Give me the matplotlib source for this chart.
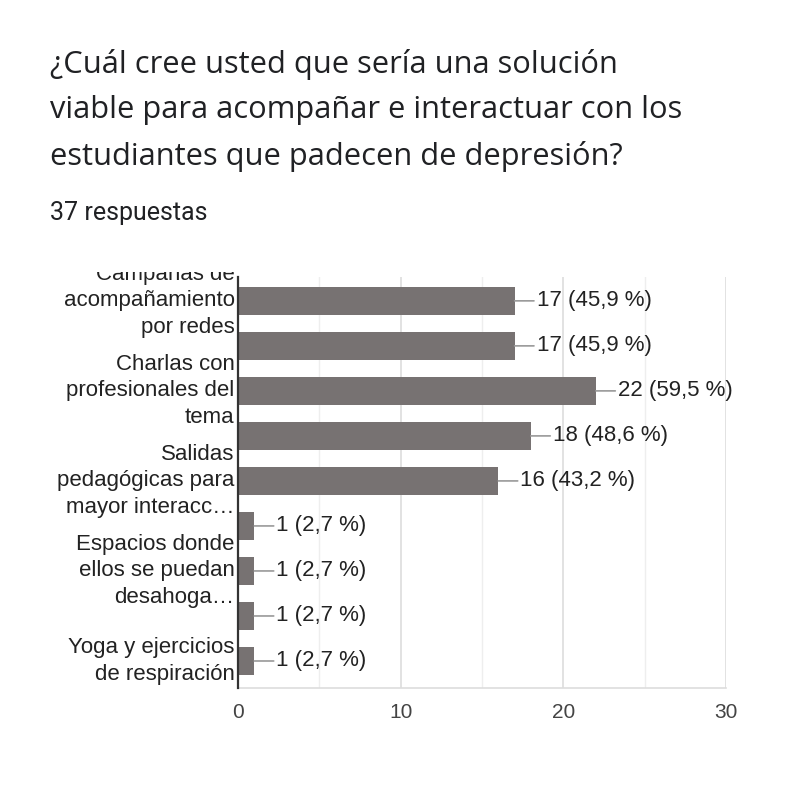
import matplotlib.pyplot as plt
from matplotlib.transforms import Bbox, TransformedBbox, blended_transform_factory

# Datos
etiquetas = [
    "Campañas de\nacompañamiento\npor redes",
    "",
    "Charlas con\nprofesionales del\ntema",
    "",
    "Salidas\npedagógicas para\nmayor interacc…",
    "",
    "Espacios donde\nellos se puedan\ndesahoga…",
    "",
    "Yoga y ejercicios\nde respiración",
]
valores = [17, 17, 22, 18, 16, 1, 1, 1, 1]
porcentajes = ["45,9", "45,9", "59,5", "48,6", "43,2", "2,7", "2,7", "2,7", "2,7"]
total = 37
xticks = [0, 10, 20, 30]

titulo = ("¿Cuál cree usted que sería una solución\n"
          "viable para acompañar e interactuar con los\n"
          "estudiantes que padecen de depresión?")

fig = plt.figure(figsize=(8.08, 8.01), dpi=100)
fig.patch.set_facecolor('white')

fig.text(50 / 808, 1 - 49 / 801, titulo, fontsize=22.2, family='Open Sans',
         color='#202124', va='top', ha='left', linespacing=1.66)
fig.text(50 / 808, 1 - 213 / 801, f"{total} respuestas", fontsize=18,
         family='Roboto', color='#202124', va='center', ha='left')

ax = fig.add_axes([238 / 808, 1 - 688 / 801, 488 / 808, 411 / 801])
ax.set_facecolor('white')

y = list(range(len(valores)))
ax.barh(y, valores, height=0.62, color='#777272', zorder=3)
ax.set_ylim(len(valores) - 0.4, -0.53)
ax.set_xlim(0, 30)

# Cuadrícula
ax.set_xticks(xticks)
ax.set_xticks([5, 15, 25], minor=True)
ax.grid(axis='x', which='major', color='#dddddd', linewidth=1.2, zorder=0)
ax.grid(axis='x', which='minor', color='#eeeeee', linewidth=1.0, zorder=0)
ax.tick_params(axis='x', which='both', length=0, labelsize=15, labelcolor='#444444',
               pad=11)
ax.set_xticklabels([str(t) for t in xticks], family='Liberation Sans')
ax.set_yticks([])

for s in ['top', 'right']:
    ax.spines[s].set_visible(False)
ax.spines['bottom'].set_color('#dddddd')
ax.spines['bottom'].set_linewidth(1.2)
ax.spines['left'].set_color('#333333')
ax.spines['left'].set_linewidth(1.6)
ax.spines['left'].set_zorder(4)

# Etiquetas del eje y (la primera queda recortada arriba)
trans = blended_transform_factory(ax.transAxes, ax.transData)
clip = TransformedBbox(Bbox([[-1, -1], [2, 1.011]]), ax.transAxes)
for i, lab in enumerate(etiquetas):
    if not lab:
        continue
    t = ax.text(-0.007, i, lab, transform=trans, ha='right', va='center',
                multialignment='right', fontsize=16.0, family='Liberation Sans',
                color='#222222', linespacing=1.36, clip_on=True)
    t.set_clip_path(None)
    t.set_clip_box(clip)

# Etiquetas de valor con línea guía
for i, (v, p) in enumerate(zip(valores, porcentajes)):
    ax.annotate(f"{v} ({p} %)", xy=(v, i), xytext=(16, 0),
                textcoords='offset points', ha='left', va='center',
                fontsize=16, family='Liberation Sans', color='#222222',
                arrowprops=dict(arrowstyle='-', color='#999999', lw=1.2,
                                shrinkA=0, shrinkB=0))

fig.savefig('out.png', dpi=100)
